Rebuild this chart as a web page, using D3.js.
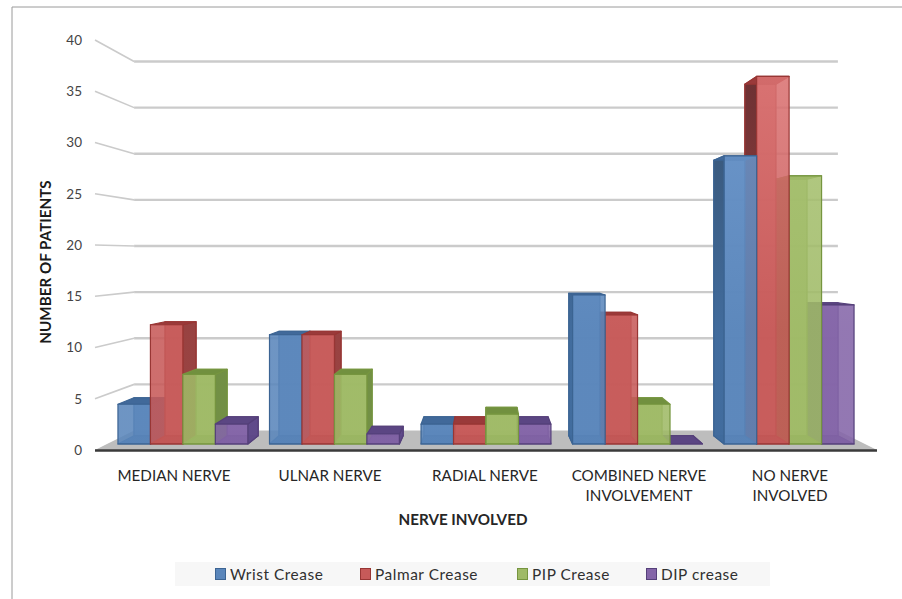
<!DOCTYPE html>
<html>
<head>
<meta charset="utf-8">
<script src="https://cdn.jsdelivr.net/npm/d3@7"></script>
<style>
  html, body { margin: 0; padding: 0; background: #fff; }
  svg { display: block; font-family: Lato, "Open Sans", sans-serif; }
</style>
</head>
<body>
<svg id="chart" width="902" height="599"></svg>
<script>
// Patient counts per nerve group and crease level
const categories = ["MEDIAN NERVE", "ULNAR NERVE", "RADIAL NERVE", "COMBINED NERVE|INVOLVEMENT", "NO NERVE|INVOLVED"];
const seriesNames = ["Wrist Crease", "Palmar Crease", "PIP Crease", "DIP crease"];
const wristCrease = [4, 11, 2, 15, 29];
const palmarCrease = [12, 11, 2, 13, 37];
const pipCrease = [7, 7, 3, 4, 27];
const dipCrease = [2, 1, 2, 0, 14];
const tickValues = [0, 5, 10, 15, 20, 25, 30, 35, 40];

const seriesValues = [wristCrease, palmarCrease, pipCrease, dipCrease];
const palette = [
  { light: "#6c97cc", base: "#5a86bb", edge: "#3c6493", top: "#41699a", sideA: "#34506f", sideB: "#3f6a9c" },
  { light: "#da7272", base: "#c75a59", edge: "#983634", top: "#9a3a3a", sideA: "#6a2e30", sideB: "#96403f" },
  { light: "#a8c272", base: "#9fba66", edge: "#76953f", top: "#71903f", sideA: "#5c7536", sideB: "#6f8d42" },
  { light: "#9175b2", base: "#8465a8", edge: "#55407a", top: "#5b4683", sideA: "#4c3a6e", sideB: "#5d4888" }
];

const svg = d3.select("#chart");
const defs = svg.append("defs");

// Perspective set-up: everything is laid out on the front plane and
// shrunk toward a single vanishing point by a depth factor.
const vanish = { x: 486, y: 255 };
const depth = { front: 1, wall: 0.9, barFront: 0.969, barBack: 0.927 };
const project = (x, y, s) => [vanish.x + (x - vanish.x) * s, vanish.y + (y - vanish.y) * s];

const plot = { left: 95, right: 877 };
const yScale = d3.scaleLinear().domain([0, 40]).range([450, 40]);
const xGroup = d3.scaleBand().domain(categories).range([plot.left, plot.right]).paddingInner(0.143).paddingOuter(0.0715);
const xBar = d3.scaleBand().domain(seriesNames).range([0, xGroup.bandwidth()]);
const labelX = d3.scaleOrdinal().domain(categories).range([174, 330, 485, 639, 790]);

const polyPath = pts => "M" + pts.map(p => p.join(",")).join("L") + "Z";

// Frame around the figure
svg.append("path").attr("d", "M12,599V7H902").attr("fill", "none").attr("stroke", "#9a9a9a").attr("stroke-width", 1);

// Floor of the chart box
const y0 = yScale(0);
svg.append("path")
  .attr("d", polyPath([[plot.left, y0], [plot.right, y0], project(plot.right, y0, depth.wall), project(plot.left, y0, depth.wall)]))
  .attr("fill", "#bdbdbd");

// Gridlines: a short run across the left wall, then along the back wall
const grid = svg.append("g").attr("fill", "none").attr("stroke", "#cbcbcb");
tickValues.filter(v => v > 0).forEach(v => {
  const y = yScale(v);
  const back = project(plot.left, y, depth.wall);
  const backRight = project(plot.right, y, depth.wall);
  grid.append("line").attr("x1", plot.left).attr("y1", y).attr("x2", back[0]).attr("y2", back[1]).attr("stroke-width", 1.6);
  grid.append("line").attr("x1", back[0]).attr("y1", back[1]).attr("x2", backRight[0]).attr("y2", backRight[1]).attr("stroke-width", 2.4);
});

// Vertical shading shared by all bars of a series
palette.forEach((c, i) => {
  const front = defs.append("linearGradient").attr("id", "front" + i).attr("gradientUnits", "userSpaceOnUse")
    .attr("x1", 0).attr("x2", 0).attr("y1", 75).attr("y2", 330);
  front.append("stop").attr("offset", 0).attr("stop-color", c.light);
  front.append("stop").attr("offset", 1).attr("stop-color", c.base);
  const side = defs.append("linearGradient").attr("id", "side" + i).attr("gradientUnits", "userSpaceOnUse")
    .attr("x1", 0).attr("x2", 0).attr("y1", 90).attr("y2", 340);
  side.append("stop").attr("offset", 0).attr("stop-color", c.sideA);
  side.append("stop").attr("offset", 1).attr("stop-color", c.sideB);
});

// Collect the bars, then paint them from the outside in so nearer sides overlap correctly
const bars = [];
categories.forEach((cat, ci) => {
  seriesNames.forEach((name, si) => {
    const x0 = xGroup(cat) + xBar(name);
    bars.push({ x0, x1: x0 + xBar.bandwidth(), value: seriesValues[si][ci], si });
  });
});
bars.sort((a, b) => Math.abs((b.x0 + b.x1) / 2 - vanish.x) - Math.abs((a.x0 + a.x1) / 2 - vanish.x));

const barLayer = svg.append("g").attr("stroke-linejoin", "round");
bars.forEach(b => {
  const c = palette[b.si];
  const yT = yScale(b.value);
  const f = depth.barFront, k = depth.barBack;
  const flt = project(b.x0, yT, f), frt = project(b.x1, yT, f), frb = project(b.x1, y0, f), flb = project(b.x0, y0, f);
  const blt = project(b.x0, yT, k), brt = project(b.x1, yT, k), brb = project(b.x1, y0, k), blb = project(b.x0, y0, k);
  const g = barLayer.append("g").attr("stroke", c.edge).attr("stroke-width", 1.2);

  const face = (pts, fill, opacity) => g.append("path").attr("d", polyPath(pts)).attr("fill", fill).attr("fill-opacity", opacity);

  face([blt, brt, brb, blb], c.base, 0.85);
  face([blb, brb, frb, flb], c.top, 0.9);
  // Only the side turned toward the viewer is shaded
  const centre = (b.x0 + b.x1) / 2;
  if (centre < vanish.x) face([frt, brt, brb, frb], `url(#side${b.si})`, 0.95);
  else face([flt, blt, blb, flb], `url(#side${b.si})`, 0.95);
  face([flt, frt, brt, blt], c.top, 1);
  if (b.value > 0) face([flt, frt, frb, flb], `url(#front${b.si})`, 0.88);
});

// Front edge of the floor
svg.append("line").attr("x1", plot.left).attr("x2", plot.right).attr("y1", y0 + 0.5).attr("y2", y0 + 0.5)
  .attr("stroke", "#3a3a3a").attr("stroke-width", 2.4);

// Value axis
const axis = svg.append("g").attr("transform", `translate(${plot.left - 7},0)`)
  .call(d3.axisLeft(yScale).tickValues(tickValues).tickSize(0).tickPadding(6));
axis.select(".domain").remove();
axis.selectAll("text").attr("font-family", "Lato, sans-serif").attr("font-size", 13.5).attr("fill", "#444");

// Category labels, wrapped at the marked break
const catLabels = svg.append("g").attr("font-size", 15.2).attr("fill", "#262626").attr("text-anchor", "middle");
categories.forEach(cat => {
  const t = catLabels.append("text").attr("x", labelX(cat)).attr("y", 481);
  cat.split("|").forEach((line, i) => t.append("tspan").attr("x", labelX(cat)).attr("dy", i ? 19.5 : 0).text(line));
});

// Axis titles
svg.append("text").attr("x", 463).attr("y", 525).attr("text-anchor", "middle")
  .attr("font-size", 15.2).attr("font-weight", 700).attr("fill", "#262626").text("NERVE INVOLVED");
svg.append("text").attr("transform", "translate(51,262) rotate(-90)").attr("text-anchor", "middle")
  .attr("font-size", 15.2).attr("font-weight", 700).attr("fill", "#1a1a1a").text("NUMBER OF PATIENTS");

// Legend
svg.append("rect").attr("x", 175).attr("y", 562).attr("width", 595).attr("height", 24).attr("fill", "#f7f7f7");
const legendX = d3.scaleOrdinal().domain(seriesNames).range([215, 360, 517, 646]);
const legend = svg.append("g");
seriesNames.forEach((name, i) => {
  legend.append("rect").attr("x", legendX(name) + 0.5).attr("y", 568.5).attr("width", 10).attr("height", 11)
    .attr("fill", palette[i].base).attr("stroke", palette[i].edge).attr("stroke-width", 1);
  legend.append("text").attr("x", legendX(name) + 15).attr("y", 579.5)
    .attr("font-size", 15.4).attr("letter-spacing", 0.55).attr("fill", "#303030").text(name);
});
</script>
</body>
</html>
